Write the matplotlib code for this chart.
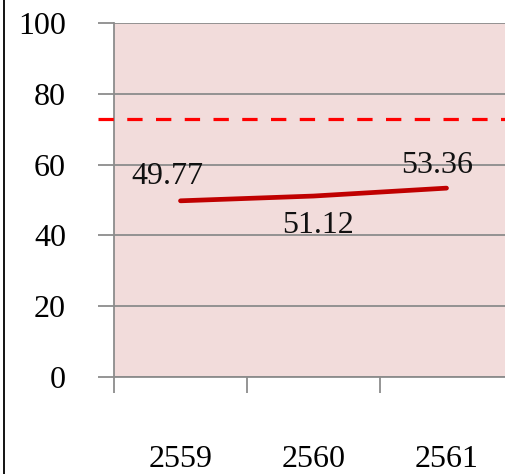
import matplotlib.pyplot as plt
from matplotlib.lines import Line2D

years = ["2559", "2560", "2561"]
values = [49.77, 51.12, 53.36]
target = 73
# label offsets (points) for each data label
label_offsets = [(-9.5, 17.5), (3.5, -21.5), (-6.5, 16)]

plt.rcParams['font.family'] = ['Liberation Serif', 'DejaVu Serif']

fig = plt.figure(figsize=(5.05, 4.74), dpi=100)
ax = fig.add_axes([114 / 505, 97.3 / 474, 399 / 505, 353.4 / 474])
ax.set_facecolor('#f2dcdb')

grid_c = '#8c8c8c'
xs = [i + 0.5 for i in range(len(years))]
ax.plot(xs, values, color='#c00000', lw=3.4, solid_capstyle='round', zorder=3)

for x, v, off in zip(xs, values, label_offsets):
    ax.annotate(f"{v:.2f}", (x, v), xytext=off, textcoords='offset points',
                ha='center', va='center', fontsize=23, color='#111111')

# target line, extends out over the tick marks
ax.add_line(Line2D([-16 / 399, 1.0], [target, target], color='#ff0000', lw=2.3,
                   dashes=(4.8, 4.2), transform=ax.get_yaxis_transform(),
                   clip_on=False, zorder=4))

ax.set_xlim(0, 3)
ax.set_ylim(0, 100)
ax.set_yticks(range(0, 101, 20))
ax.yaxis.grid(True, color=grid_c, lw=1.3)
ax.set_axisbelow(True)

ax.set_xticks([0, 1, 2, 3])
ax.set_xticklabels([])
ax.set_xticks(xs, minor=True)
ax.set_xticklabels(years, minor=True)
ax.tick_params(axis='x', which='major', length=11.5, width=1.3, color=grid_c)
ax.tick_params(axis='x', which='minor', length=0, pad=49, labelsize=23)
ax.tick_params(axis='y', length=11.5, width=1.3, color=grid_c, pad=23, labelsize=23)

for side in ['top', 'right']:
    ax.spines[side].set_visible(False)
for side in ['left', 'bottom']:
    ax.spines[side].set_color(grid_c)
    ax.spines[side].set_linewidth(1.3)

fig.add_artist(Line2D([3.5 / 505, 3.5 / 505], [0, 1], color='black', lw=1.3,
                      transform=fig.transFigure))

fig.savefig('out.png', dpi=100)
